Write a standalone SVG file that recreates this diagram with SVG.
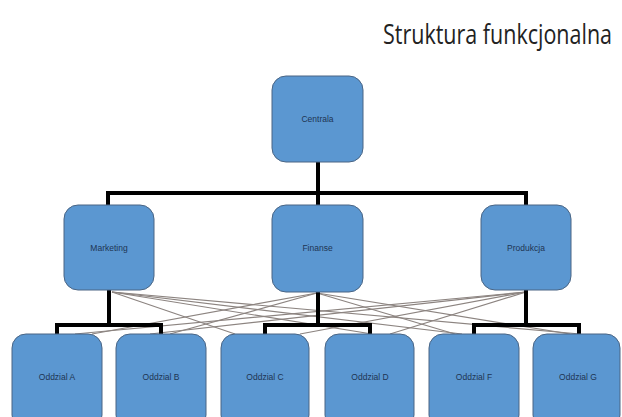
<svg xmlns="http://www.w3.org/2000/svg" width="622" height="417" viewBox="0 0 622 417">
<style>
.box{fill:#5b97d1;stroke:#4a6584;stroke-width:1}
.lbl{font-family:"Liberation Sans",Arial,sans-serif;font-size:8.5px;fill:#1e3553;text-anchor:middle;dominant-baseline:middle}
.bar{fill:none;stroke:#000;stroke-width:4;stroke-linejoin:miter;stroke-linecap:square}
.thin{stroke:#8c8480;stroke-width:1.2;fill:none}
.title{font-family:"Open Sans","Liberation Sans",sans-serif;font-size:27px;fill:#222}
</style>
<rect width="622" height="417" fill="#fff"/>
<text class="title" x="383" y="44" textLength="229" lengthAdjust="spacingAndGlyphs">Struktura funkcjonalna</text>
<g id="connectors">
<g id="thin-lines">
<line class="thin" x1="112" y1="292" x2="235" y2="334"/>
<line class="thin" x1="112" y1="292" x2="372" y2="334"/>
<line class="thin" x1="112" y1="292" x2="462" y2="334"/>
<line class="thin" x1="112" y1="292" x2="580" y2="334"/>
<line class="thin" x1="317" y1="293" x2="92" y2="334"/>
<line class="thin" x1="317" y1="293" x2="170" y2="334"/>
<line class="thin" x1="317" y1="293" x2="455" y2="334"/>
<line class="thin" x1="317" y1="293" x2="570" y2="334"/>
<line class="thin" x1="526" y1="292" x2="75" y2="334"/>
<line class="thin" x1="526" y1="292" x2="150" y2="334"/>
<line class="thin" x1="526" y1="292" x2="300" y2="334"/>
<line class="thin" x1="526" y1="292" x2="390" y2="334"/>
</g>
<path class="bar" d="M318 162 V193 M108 205 V193 H526 V205 M318 193 V205"/>
<path class="bar" d="M109 290 V325 M57 334 V325 H161 V334"/>
<path class="bar" d="M318 292 V325 M265 334 V325 H370 V334"/>
<path class="bar" d="M526 290 V325 M474 334 V325 H579 V334"/>
</g>
<g id="centrala"><rect class="box" x="272" y="76" width="91" height="86" rx="14"/><text class="lbl" x="317.5" y="120">Centrala</text></g>
<g id="marketing"><rect class="box" x="64" y="205" width="90" height="85" rx="14"/><text class="lbl" x="109" y="249">Marketing</text></g>
<g id="finanse"><rect class="box" x="272" y="205" width="91" height="87" rx="14"/><text class="lbl" x="317.5" y="249">Finanse</text></g>
<g id="produkcja"><rect class="box" x="481" y="205" width="90" height="85" rx="14"/><text class="lbl" x="526" y="249">Produkcja</text></g>
<g id="oddzial-a"><rect class="box" x="12" y="334" width="90" height="95" rx="14"/><text class="lbl" x="57" y="378">Oddzial A</text></g>
<g id="oddzial-b"><rect class="box" x="116" y="334" width="90" height="95" rx="14"/><text class="lbl" x="161" y="378">Oddzial B</text></g>
<g id="oddzial-c"><rect class="box" x="221" y="334" width="88" height="95" rx="14"/><text class="lbl" x="265" y="378">Oddzial C</text></g>
<g id="oddzial-d"><rect class="box" x="325" y="334" width="89" height="95" rx="14"/><text class="lbl" x="370" y="378">Oddzial D</text></g>
<g id="oddzial-f"><rect class="box" x="429" y="334" width="90" height="95" rx="14"/><text class="lbl" x="474" y="378">Oddzial F</text></g>
<g id="oddzial-g"><rect class="box" x="533" y="334" width="87" height="95" rx="14"/><text class="lbl" x="578" y="378">Oddzial G</text></g>
</svg>
